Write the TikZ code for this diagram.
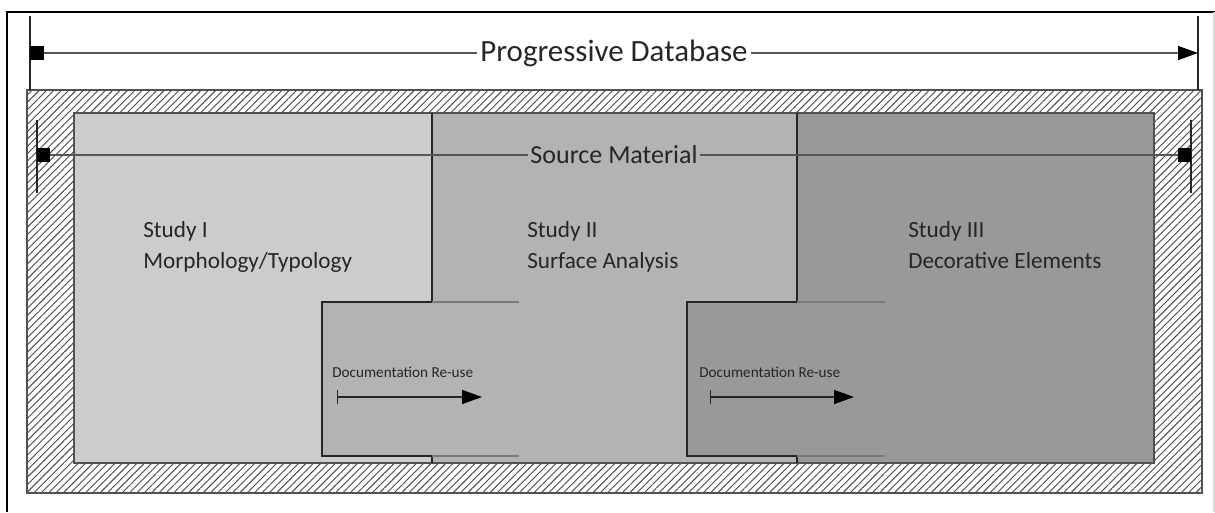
\documentclass[tikz,border=0pt]{standalone}
\usepackage{fontspec}
\setmainfont{Carlito}
\usetikzlibrary{arrows.meta,patterns.meta}
\definecolor{studyone}{HTML}{CCCCCC}
\definecolor{studytwo}{HTML}{B3B3B3}
\definecolor{studythree}{HTML}{999999}
\definecolor{inkline}{HTML}{262626}
\definecolor{dimgray}{HTML}{555555}
\definecolor{seamgray}{HTML}{7A7A7A}
\begin{document}
\begin{tikzpicture}[x=0.75pt,y=-0.75pt,
  dimline/.style={draw=dimgray,line width=1.2pt},
  dimtick/.style={draw=inkline,line width=0.8pt},
  dimlabel/.style={inner sep=2.2pt,text=inkline},
  boundary/.style={draw=inkline,line width=1.3pt},
  seam/.style={draw=seamgray,line width=0.8pt},
  studylabel/.style={anchor=north west,align=left,inner sep=0pt,text=inkline,
    font=\fontsize{17.4pt}{23.2pt}\selectfont},
  reuselabel/.style={anchor=base west,inner sep=0pt,text=inkline,
    font=\fontsize{11.4pt}{13pt}\selectfont},
  reusearrow/.style={draw=inkline,line width=1.1pt,
    {Bar[width=10.5pt]}-{Triangle[length=15pt,width=10.5pt,color=black]}}]
  \useasboundingbox (0,0) rectangle (1215,512);
  % page frame
  \draw[black,line width=1.5pt] (7,512) -- (7,12) -- (1215,12);
  \draw[black!15,line width=0.8pt] (1214,12) -- (1214,512);
  % hatched surround
  \path[pattern={Lines[angle=45,distance=3.9pt,line width=0.7pt]},pattern color=inkline!85]
    (27,90) rectangle (1202,493);
  \draw[draw=inkline!80,line width=1.1pt] (27,90) rectangle (1202,493);
  % the three studies
  \fill[studyone] (74,113) rectangle (432,463);
  \fill[studytwo] (432,113) rectangle (797,463);
  \fill[studythree] (797,113) rectangle (1154,463);
  \draw[draw=inkline!80,line width=1.1pt] (74,113) rectangle (1154,463);
  \node[studylabel] (study1) at (143,221) {Study I\\Morphology/Typology};
  \node[studylabel] (study2) at (527,221) {Study II\\Surface Analysis};
  \node[studylabel] (study3) at (908,221) {Study III\\Decorative Elements};
  % documentation re-use tabs
  \fill[studytwo] (322,302) rectangle (519,456);
  \fill[studythree] (687,302) rectangle (885,456);
  \foreach \xl/\xm/\xr in {322/432/519,687/797/885} {
    \draw[boundary] (\xm,113) -- (\xm,302) -- (\xl,302) -- (\xl,456) -- (\xm,456) -- (\xm,463);
    \draw[seam] (\xm,302) -- (\xr,302) (\xm,456) -- (\xr,456);
  }
  \node[reuselabel] (reuse1) at (332,377) {Documentation Re-use};
  \node[reuselabel] (reuse2) at (699,377) {Documentation Re-use};
  \coordinate (reuse1-s) at (337,397);
  \coordinate (reuse1-e) at (482,397);
  \coordinate (reuse2-s) at (710,397);
  \coordinate (reuse2-e) at (854,397);
  \draw[reusearrow] (reuse1-s) -- (reuse1-e);
  \draw[reusearrow] (reuse2-s) -- (reuse2-e);
  % progressive database span
  \coordinate (pdb-l) at (30,53);
  \coordinate (pdb-r) at (1198,53);
  \draw[dimtick] (30,16) -- (30,90) (1198,16) -- (1198,90);
  \draw[dimline,{Square[length=10.5pt,width=10.5pt,color=black]}-{Triangle[length=15pt,width=10.5pt,color=black]}]
    (pdb-l) -- node[dimlabel,fill=white,font=\fontsize{23.2pt}{28pt}\selectfont] (pdb) {Progressive Database} (pdb-r);
  % source material span
  \coordinate (src-l) at (37,155);
  \coordinate (src-r) at (1191,155);
  \draw[dimtick] (37,120) -- (37,193) (1191,120) -- (1191,193);
  \draw[dimline,{Square[length=10pt,width=10pt,color=black]}-{Square[length=10pt,width=10pt,color=black]}]
    (src-l) -- node[dimlabel,fill=studytwo,font=\fontsize{19.5pt}{23pt}\selectfont] (src) {Source Material} (src-r);
\end{tikzpicture}
\end{document}
